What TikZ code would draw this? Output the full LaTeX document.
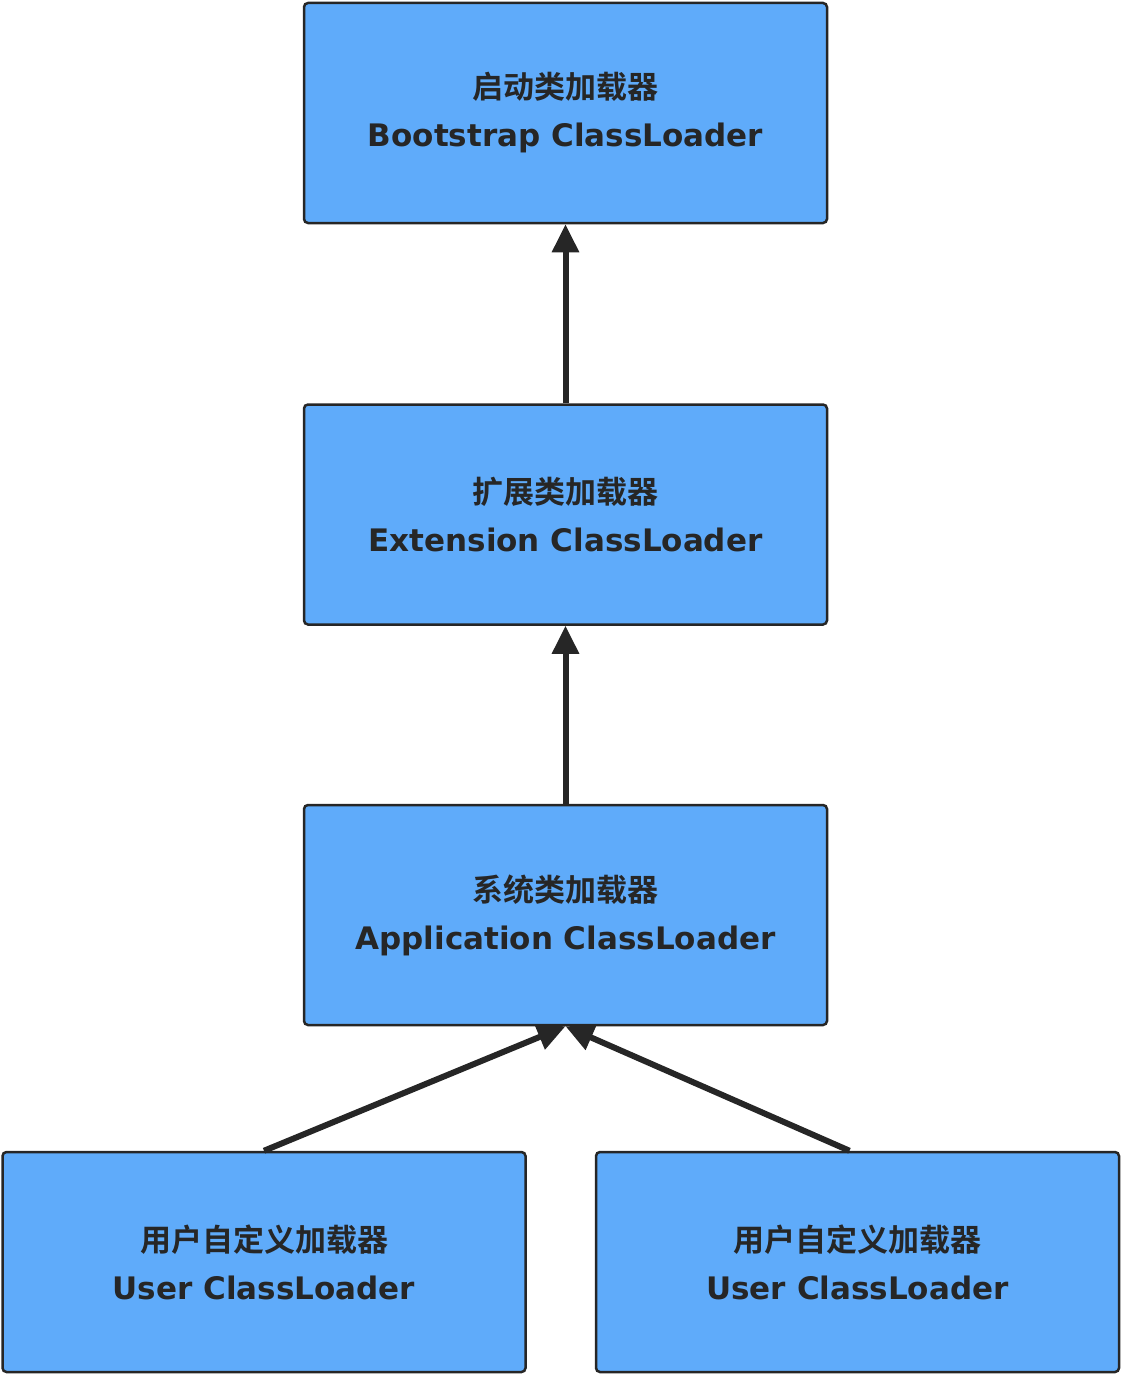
\documentclass[tikz,border=0pt]{standalone}
\usepackage{fontspec}
\setmainfont{DejaVu Sans}
\newfontfamily\cjk{Noto Sans CJK SC}[BoldFont={Noto Sans CJK SC Bold}]
\usetikzlibrary{arrows.meta}
\definecolor{boxblue}{HTML}{5FABFA}
\definecolor{inkdark}{HTML}{262626}
\tikzset{loader/.style={draw=inkdark, line width=2.5pt, fill=boxblue, rounded corners=4pt,
                         minimum width=523pt, minimum height=220pt, align=center,
                         text=inkdark, font=\bfseries\fontsize{31}{48}\selectfont},
         parent/.style={draw=inkdark, line width=6pt, -{Triangle[length=28pt,width=26pt]}}}
\begin{document}
\begin{tikzpicture}[x=1pt,y=1pt]
    \useasboundingbox (0,0) rectangle (1122,-1378);

    \node[loader] (boot) at (565.5,-113) {{\cjk 启动类加载器}\\Bootstrap ClassLoader};
    \node[loader] (ext) at (565.5,-514.5) {{\cjk 扩展类加载器}\\Extension ClassLoader};
    \node[loader] (app) at (565.5,-915) {{\cjk 系统类加载器}\\Application ClassLoader};
    \node[loader] (user1) at (264,-1262) {{\cjk 用户自定义加载器}\\User ClassLoader};
    \node[loader] (user2) at (857.5,-1262) {{\cjk 用户自定义加载器}\\User ClassLoader};

    \draw[parent] (ext.north) -- (boot.south);
    \draw[parent] (app.north) -- (ext.south);
    \draw[parent] (user1.north) -- (app.south);
    \draw[parent] ([xshift=-8pt]user2.north) -- (app.south);
\end{tikzpicture}
\end{document}
